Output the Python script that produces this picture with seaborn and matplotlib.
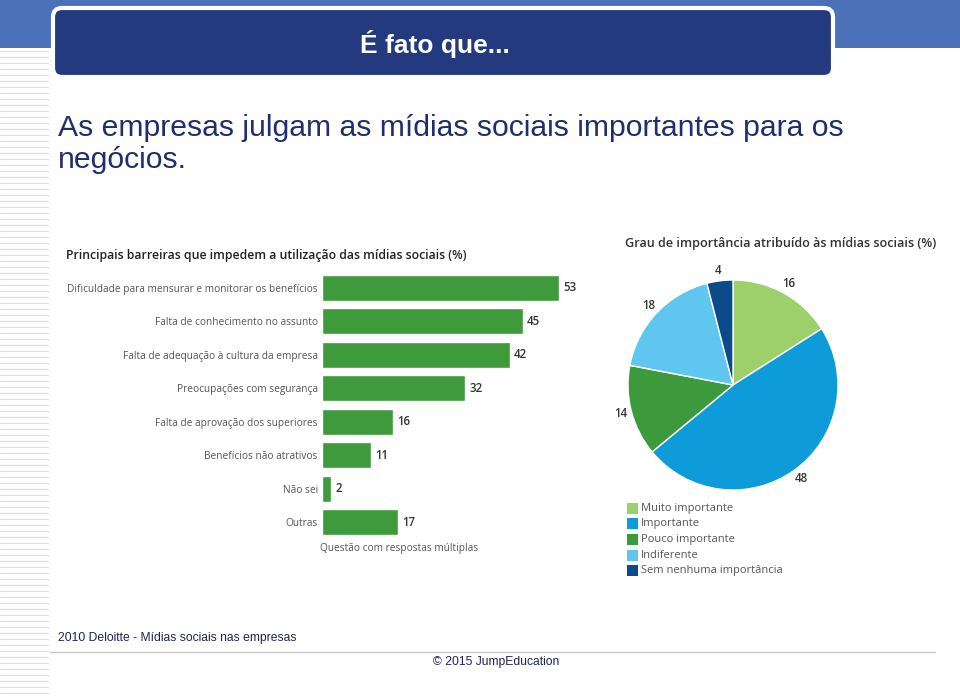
import matplotlib
matplotlib.use("Agg")
import matplotlib.pyplot as plt
from matplotlib.patches import FancyBboxPatch, Rectangle
import seaborn as sns

# ---------------- data ----------------
barreiras = ["Dificuldade para mensurar e monitorar os benefícios",
             "Falta de conhecimento no assunto",
             "Falta de adequação à cultura da empresa",
             "Preocupações com segurança",
             "Falta de aprovação dos superiores",
             "Benefícios não atrativos",
             "Não sei",
             "Outras"]
barreiras_pct = [53, 45, 42, 32, 16, 11, 2, 17]

graus = ["Muito importante", "Importante", "Pouco importante",
         "Indiferente", "Sem nenhuma importância"]
graus_pct = [16, 48, 14, 18, 4]
graus_cores = ["#9dcf6b", "#0d9bd9", "#3d9a3c", "#5fc6ef", "#0b4a8b"]

W, H = 960, 697
sns.set_theme(style="white")
plt.rcParams["font.family"] = ["Open Sans", "DejaVu Sans"]
slide_font = ["Liberation Sans", "DejaVu Sans"]

fig = plt.figure(figsize=(W / 100, H / 100), dpi=100)
fig.patch.set_facecolor("white")

# ---------------- slide decorations ----------------
deco = fig.add_axes([0, 0, 1, 1])
deco.set_xlim(0, W)
deco.set_ylim(H, 0)
deco.axis("off")

deco.add_patch(Rectangle((0, 0), W, 48, color="#4b71b9", lw=0))
for y in range(51, H, 6):
    deco.plot([0, 48], [y, y], color="#dcdcdc", lw=0.8)

deco.add_patch(FancyBboxPatch((53, 8), 780, 69, boxstyle="round,pad=0,rounding_size=9",
                              facecolor="#233a7e", edgecolor="white", lw=3))
deco.text(435, 44, "É fato que...", color="white", fontsize=19, fontweight="bold",
          ha="center", va="center", family=slide_font)

deco.text(58, 128, "As empresas julgam as mídias sociais importantes para os",
          color="#1f2f6c", fontsize=21.7, va="center", family=slide_font)
deco.text(58, 160, "negócios.", color="#1f2f6c", fontsize=21.7, va="center", family=slide_font)

deco.text(58, 638, "2010 Deloitte - Mídias sociais nas empresas", color="#1f2550",
          fontsize=8.7, va="center", family=slide_font)
deco.plot([50, 935], [652, 652], color="#c8c8c8", lw=1)
deco.text(496, 662, "© 2015 JumpEducation", color="#1f2550", fontsize=8.7,
          ha="center", va="center", family=slide_font)

# ---------------- bar chart ----------------
deco.text(66, 256, "Principais barreiras que impedem a utilização das mídias sociais (%)",
          color="#222222", fontsize=8.8, fontweight="semibold", va="center")

ax = fig.add_axes([322 / W, 1 - 539 / H, 268 / W, 268 / H])
sns.barplot(x=barreiras_pct, y=barreiras, orient="h", color="#3f9a3c",
            saturation=1, width=0.77, ax=ax)
ax.set_xlim(0, 60)
ax.set_ylim(7.5, -0.5)
ax.set_xlabel("")
ax.set_ylabel("")
ax.set_xticks([])
sns.despine(ax=ax, left=True, bottom=True)
ax.tick_params(axis="y", left=False, length=0, pad=3, labelsize=7.3, labelcolor="#555555")
ax.set_facecolor("none")
ax.bar_label(ax.containers[0], padding=3, fontsize=8.3, color="#333333",
             fontweight="semibold")

deco.text(320, 549, "Questão com respostas múltiplas", color="#555555",
          fontsize=7.3, va="center")

# ---------------- pie chart ----------------
deco.text(625, 244, "Grau de importância atribuído às mídias sociais (%)",
          color="#333333", fontsize=9.1, fontweight="semibold", va="center")

pax = fig.add_axes([(733 - 130) / W, 1 - (385 + 130) / H, 260 / W, 260 / H])
wedges, texts = pax.pie(graus_pct, colors=graus_cores, startangle=90, counterclock=False,
                        labels=[str(v) for v in graus_pct], labeldistance=1.1,
                        wedgeprops=dict(edgecolor="white", linewidth=1))
for t in texts:
    t.set_fontsize(8.3)
    t.set_color("#333333")
    t.set_fontweight("semibold")
    t.set_ha("center")
    t.set_va("center")
lim = 130 / 105
pax.set_xlim(-lim, lim)
pax.set_ylim(-lim, lim)
pax.axis("off")

for i, (nome, cor) in enumerate(zip(graus, graus_cores)):
    y = 508 + i * 15.7
    deco.add_patch(Rectangle((627, y - 5.5), 11, 11, color=cor, lw=0))
    deco.text(641, y, nome, color="#555555", fontsize=8.0, va="center")

fig.savefig("out.png", dpi=100)
